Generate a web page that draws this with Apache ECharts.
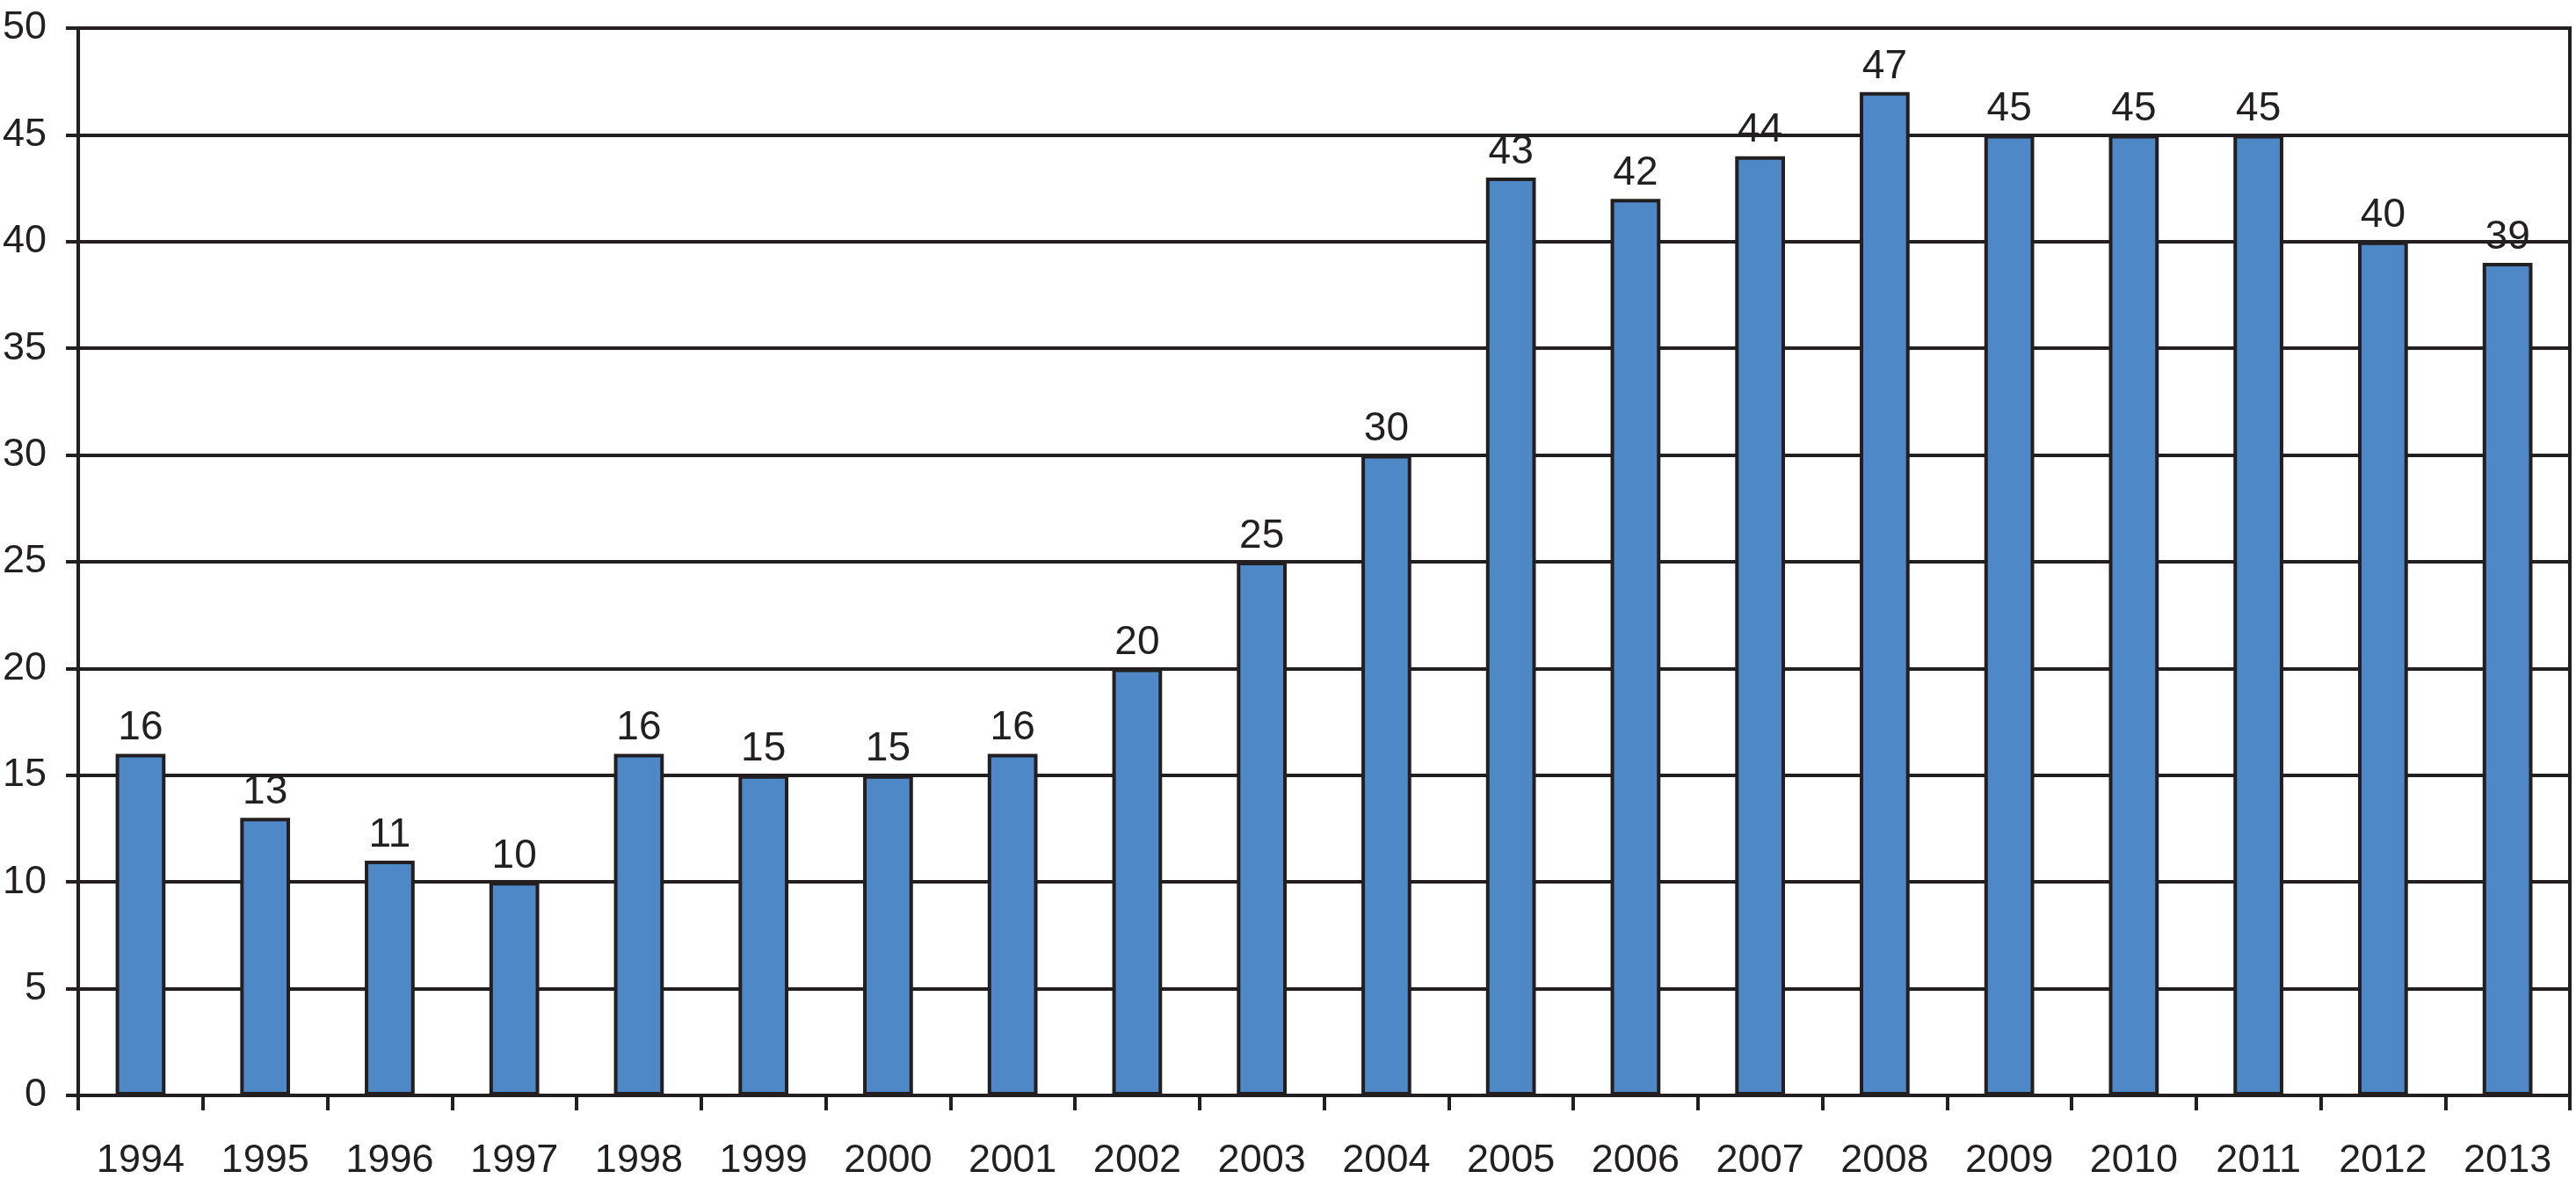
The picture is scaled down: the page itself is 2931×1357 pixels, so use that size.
<!DOCTYPE html>
<html>
<head>
<meta charset="utf-8">
<script src="https://cdn.jsdelivr.net/npm/echarts@6/dist/echarts.min.js"></script>
<style>html,body{margin:0;padding:0;background:#fff}#c{width:2931px;height:1357px}</style>
</head>
<body>
<div id="c"></div>
<script>
const years = ['1994','1995','1996','1997','1998','1999','2000','2001','2002','2003','2004','2005','2006','2007','2008','2009','2010','2011','2012','2013'];
const values = [16,13,11,10,16,15,15,16,20,25,30,43,42,44,47,45,45,45,40,39];

const ink = '#231F20';
const chart = echarts.init(document.getElementById('c'));
chart.setOption({
  backgroundColor: '#ffffff',
  animation: false,
  textStyle: { fontFamily: 'Liberation Sans, Arial, sans-serif' },
  grid: { left: 88, right: 7, top: 32, bottom: 111, show: true, borderColor: ink, borderWidth: 4, containLabel: false },
  xAxis: {
    type: 'category',
    data: years,
    boundaryGap: true,
    axisLine: { show: true, lineStyle: { color: ink, width: 4 } },
    axisTick: { show: true, length: 17, alignWithLabel: false, lineStyle: { color: ink, width: 4 } },
    axisLabel: { color: ink, fontSize: 45, margin: 52, fontFamily: 'Liberation Sans, Arial, sans-serif' },
    splitLine: { show: false }
  },
  yAxis: {
    type: 'value',
    min: 0, max: 50, interval: 5,
    axisLine: { show: true, lineStyle: { color: ink, width: 4 } },
    axisTick: { show: true, length: 14, lineStyle: { color: ink, width: 4 } },
    axisLabel: { color: ink, fontSize: 45, margin: 36, fontFamily: 'Liberation Sans, Arial, sans-serif' },
    splitLine: { show: true, lineStyle: { color: ink, width: 4 } }
  },
  series: [{
    type: 'bar',
    data: values,
    barWidth: '40%',
    itemStyle: { color: '#4F88C6', borderColor: ink, borderWidth: 4 },
    label: { show: true, position: 'top', distance: 6, color: ink, fontSize: 46, fontFamily: 'Liberation Sans, Arial, sans-serif' }
  }]
});
</script>
</body>
</html>
